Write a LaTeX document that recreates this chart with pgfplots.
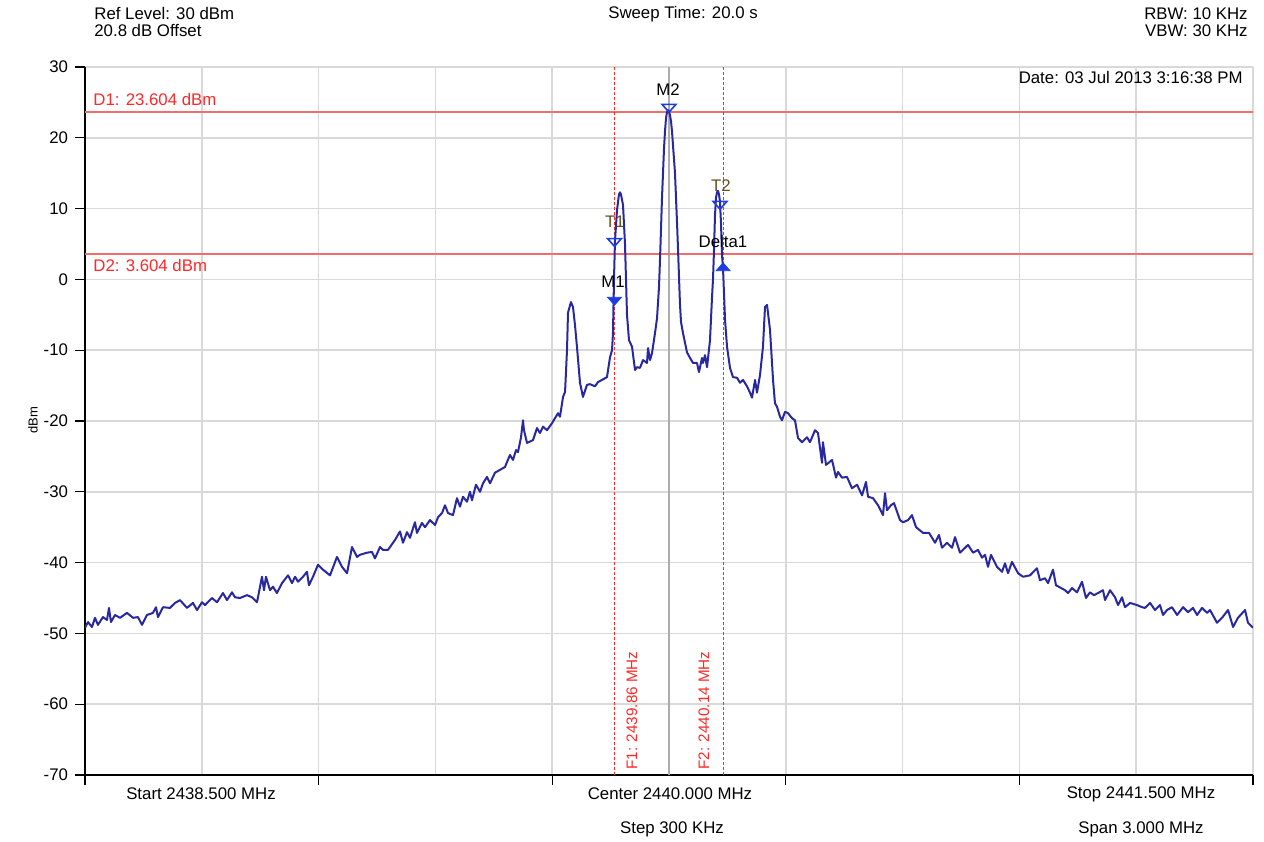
\documentclass[border=0pt]{standalone}
\usepackage{pgfplots}
\pgfplotsset{compat=1.18}
\usepackage{pgfplotstable}
\usepackage{fontspec}
\setmainfont{Liberation Sans}
\definecolor{tracec}{RGB}{40,40,160}
\definecolor{dline}{RGB}{240,110,110}
\definecolor{fline}{RGB}{255,40,40}
\definecolor{mblue}{RGB}{30,60,230}
\definecolor{gridgray}{RGB}{217,217,217}
\definecolor{tlabel}{RGB}{100,80,30}

% px = horizontal screen position of the reading (85 = 2438.5 MHz, 1253 = 2441.5 MHz), dbm = level
\pgfplotstableread{
px dbm
85 -49.2
88 -48.4
92 -49.1
95 -47.8
98 -48.8
103 -47.7
107 -48.1
109 -46.4
111 -48.4
115 -47.4
120 -47.8
127 -47.1
133 -47.8
138 -47.7
142 -48.8
147 -47.4
153 -47.1
156 -46.3
158 -47.7
163 -46.3
170 -46.4
175 -45.7
180 -45.3
187 -46.4
193 -45.7
197 -46.7
202 -45.6
205 -46.0
212 -45.0
217 -45.6
223 -44.3
227 -45.3
232 -44.2
235 -44.9
240 -45.0
247 -44.6
252 -44.9
257 -45.6
262 -42.0
264 -43.9
266 -42.0
270 -43.9
273 -43.4
277 -44.3
282 -42.9
288 -41.8
292 -42.9
295 -42.0
298 -42.7
303 -42.0
307 -41.3
309 -43.2
313 -42.0
318 -40.3
323 -41.0
330 -41.8
337 -39.2
342 -40.6
347 -41.5
352 -37.8
357 -39.2
360 -38.9
367 -38.6
372 -38.5
375 -39.4
380 -37.8
383 -38.2
388 -38.2
395 -36.8
400 -35.6
403 -37.2
407 -35.7
410 -36.5
415 -34.3
417 -35.8
422 -34.4
425 -35.0
430 -34.0
435 -34.7
438 -33.6
442 -33.0
445 -31.9
448 -33.0
453 -33.3
457 -30.9
460 -32.1
463 -30.7
467 -31.4
470 -30.0
472 -31.2
476 -29.0
480 -30.0
483 -28.8
487 -27.9
490 -28.8
495 -27.3
500 -26.9
505 -26.5
507 -25.8
510 -24.8
513 -25.5
516 -24.1
518 -24.4
521 -22.3
523 -19.9
524 -21.3
527 -23.1
533 -22.7
537 -21.0
540 -21.7
543 -20.8
547 -21.3
552 -20.3
555 -19.6
558 -18.9
560 -19.4
563 -16.6
565 -15.9
567 -10.0
568 -4.7
571 -3.2
573 -3.9
575 -6.5
577 -9.5
580 -14.6
583 -16.6
587 -14.9
590 -14.8
595 -15.1
598 -14.5
602 -14.2
607 -13.8
610 -11.0
612 -10.0
613 -7.6
614 0.0
615 5.5
617 9.8
619 12.0
620 12.3
621 12.0
623 10.5
625 5.0
627 -5.0
629 -8.6
632 -9.5
635 -12.8
637 -12.4
640 -12.5
643 -11.4
647 -11.8
648 -9.7
650 -11.4
652 -10.4
655 -7.6
657 -5.5
659 -1.0
660 3.0
661 7.0
662 11.5
663 15.0
664 18.5
665 21.0
666 22.8
667 23.6
668 23.9
669 23.7
670 23.2
671 22.3
672 21.0
673 19.0
674 17.0
675 15.0
676 11.5
677 8.0
678 4.5
679 0.5
680 -3.5
681 -6.0
683 -7.6
687 -10.3
690 -11.1
693 -11.8
697 -11.8
699 -13.1
702 -11.1
703 -11.8
705 -10.7
707 -12.4
710 -8.6
712 -2.5
713 0.0
714 4.0
715 9.0
716 11.5
717 12.3
718 12.5
719 12.0
720 11.0
721 8.0
722 3.5
723 1.6
724 -2.0
725 -5.7
727 -9.5
730 -12.5
733 -13.8
737 -13.9
740 -14.6
743 -14.2
747 -15.1
750 -16.0
752 -16.7
755 -14.2
757 -16.0
760 -13.5
763 -9.5
765 -3.9
767 -3.6
770 -7.1
773 -14.2
775 -17.5
777 -18.0
780 -19.4
782 -19.9
785 -18.7
788 -18.9
792 -19.6
795 -19.9
798 -22.4
802 -23.0
807 -22.3
810 -23.0
815 -21.3
818 -21.7
822 -25.9
823 -23.0
826 -26.2
832 -25.5
836 -28.0
838 -27.2
842 -28.0
847 -27.9
852 -29.5
857 -29.0
862 -30.5
866 -28.6
868 -30.7
873 -30.9
878 -31.9
883 -33.3
885 -30.2
887 -32.6
891 -31.9
894 -31.6
900 -34.0
903 -34.3
908 -34.0
912 -33.3
916 -35.0
923 -35.8
929 -35.8
935 -37.2
939 -36.1
942 -37.9
947 -37.2
952 -37.9
955 -36.4
960 -38.6
968 -37.5
973 -38.6
978 -38.2
982 -39.3
985 -38.9
988 -40.6
991 -38.9
997 -40.6
1002 -41.3
1005 -40.1
1008 -41.5
1012 -39.9
1018 -41.5
1023 -42.0
1030 -41.8
1037 -40.8
1040 -42.5
1045 -42.2
1048 -42.9
1053 -41.0
1056 -43.2
1065 -43.9
1068 -44.3
1072 -43.6
1077 -44.2
1082 -42.7
1086 -45.0
1090 -44.2
1094 -44.6
1098 -44.3
1103 -43.9
1105 -45.3
1110 -43.9
1115 -44.9
1118 -46.0
1122 -44.9
1125 -46.3
1130 -45.7
1137 -46.0
1142 -46.3
1145 -46.4
1150 -45.7
1155 -46.7
1160 -46.0
1163 -47.4
1167 -46.7
1172 -46.3
1177 -47.4
1183 -46.3
1188 -47.0
1193 -46.4
1197 -47.4
1202 -46.4
1207 -47.1
1210 -46.7
1217 -48.5
1222 -47.8
1228 -46.7
1233 -49.1
1238 -47.8
1245 -46.7
1248 -48.5
1253 -49.2
}\spectrum

\begin{document}
\begin{tikzpicture}[font=\fontsize{8.4}{10}\selectfont, lbl/.style={inner sep=0pt}]
\useasboundingbox (-42.5pt,-33pt) rectangle (589.5pt,387.5pt);
\begin{axis}[
  at={(0pt,0pt)}, anchor=south west,
  scale only axis, width=584pt, height=354pt,
  xmin=2438.5, xmax=2441.5, ymin=-70, ymax=30,
  axis lines*=left,
  axis line style={-, black, line width=1pt},
  xtick={2438.5,2439.1,2439.7,2440.3,2440.9,2441.5},
  minor xtick={2438.8,2439.4,2440.0,2440.6,2441.2},
  xticklabels={},
  ytick={-70,-60,-50,-40,-30,-20,-10,0,10,20,30},
  yticklabels={-70,-60,-50,-40,-30,-20,-10,0,10,20,30},
  grid=both,
  grid style={gridgray, line width=0.8pt},
  minor grid style={gridgray, line width=0.8pt},
  major grid style={gridgray, line width=0.8pt},
  tick align=outside, major tick length=5pt, minor tick length=0pt,
  tick style={black, line width=0.6pt},
  yticklabel style={font=\fontsize{8.4}{10}\selectfont},
  clip mode=individual,
]
\addplot[gray!65, line width=0.8pt] coordinates {(2440.0,-70) (2440.0,30)};
\addplot[dline, line width=1pt] coordinates {(2438.5,23.604) (2441.5,23.604)};
\addplot[dline, line width=1pt] coordinates {(2438.5,3.604) (2441.5,3.604)};
\addplot[fline, line width=0.5pt, dash pattern=on 1.5pt off 1pt] coordinates {(2439.86,-70) (2439.86,30)};
\addplot[fline, line width=0.5pt, dash pattern=on 1.5pt off 1pt] coordinates {(2440.14,-70) (2440.14,30)};
\addplot[tracec, line width=1pt, line join=round] table[x expr=2438.5+(\thisrow{px}-85)/389.33, y=dbm] {\spectrum};
\addplot[only marks, mark=triangle, mark size=4pt, mark options={draw=mblue, line width=0.8pt, yscale=-0.65}] coordinates {(2440.0,24.35) (2439.86,5.4) (2440.131,10.65)};
\addplot[only marks, mark=triangle*, mark size=4pt, mark options={draw=mblue, fill=mblue, yscale=-0.65}] coordinates {(2439.86,-2.9)};
\addplot[only marks, mark=triangle*, mark size=4pt, mark options={draw=mblue, fill=mblue, yscale=0.65}] coordinates {(2440.139,1.6)};
\end{axis}
% header
\node[lbl, anchor=west] at (4.5pt,380.5pt) {Ref Level: 30 dBm};
\node[lbl, anchor=west] at (4.5pt,372pt) {20.8 dB Offset};
\node[lbl] at (299pt,380.5pt) {Sweep Time: 20.0 s};
\node[lbl, anchor=east] at (581.5pt,380.5pt) {RBW: 10 KHz};
\node[lbl, anchor=east] at (581.5pt,372pt) {VBW: 30 KHz};
\node[lbl, anchor=east] at (579pt,348.5pt) {Date: 03 Jul 2013 3:16:38 PM};
% display lines labels
\node[lbl, anchor=west, text=fline] at (4pt,337.5pt) {D1: 23.604 dBm};
\node[lbl, anchor=west, text=fline] at (4pt,254.5pt) {D2: 3.604 dBm};
\node[lbl, rotate=90, anchor=west, text=fline, font=\fontsize{7.6}{9}\selectfont] at (273.5pt,2.5pt) {F1: 2439.86 MHz};
\node[lbl, rotate=90, anchor=west, text=fline, font=\fontsize{7.6}{9}\selectfont] at (309.5pt,2.5pt) {F2: 2440.14 MHz};
% marker labels
\node[lbl] at (291.5pt,342.5pt) {M2};
\node[lbl, text=tlabel] at (265pt,276.5pt) {T1};
\node[lbl] at (264pt,246.5pt) {M1};
\node[lbl, text=tlabel] at (318pt,294.5pt) {T2};
\node[lbl] at (319pt,266.5pt) {Delta1};
% y label
\node[lbl, rotate=90, font=\fontsize{6.5}{8}\selectfont] at (-26pt,177.5pt) {dBm};
% footer
\node[lbl] at (58pt,-9.5pt) {Start 2438.500 MHz};
\node[lbl] at (292.5pt,-9.5pt) {Center 2440.000 MHz};
\node[lbl] at (528pt,-9.5pt) {Stop 2441.500 MHz};
\node[lbl] at (293.5pt,-27pt) {Step 300 KHz};
\node[lbl] at (528pt,-27pt) {Span 3.000 MHz};
\end{tikzpicture}
\end{document}
